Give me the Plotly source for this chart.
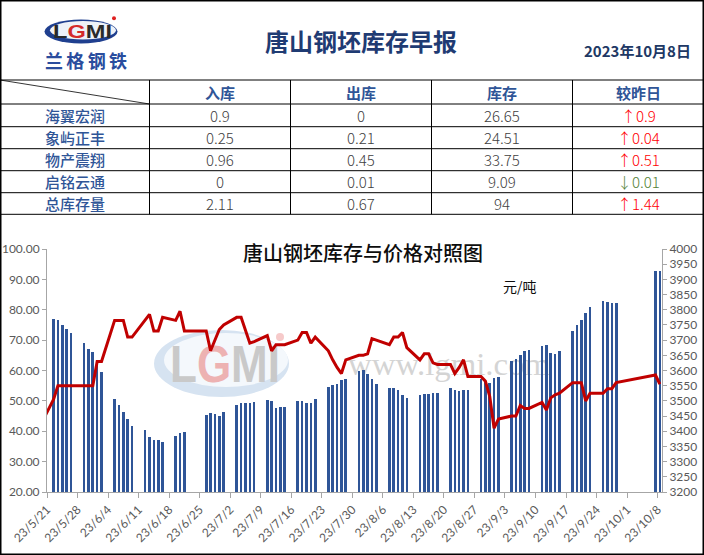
import base64
import pandas as pd
import plotly.graph_objects as go

W, H = 704, 555

# ---- report header / table ----
report_title = "唐山钢坯库存早报"
report_date = "2023年10月8日"
chart_title = "唐山钢坯库存与价格对照图"
price_unit = "元/吨"
table_columns = ["入库", "出库", "库存", "较昨日"]
companies = ["海翼宏润", "象屿正丰", "物产震翔", "启铭云通", "总库存量"]
stock_in = ["0.9", "0.25", "0.96", "0", "2.11"]
stock_out = ["0", "0.21", "0.45", "0.01", "0.67"]
stock_total = ["26.65", "24.51", "33.75", "9.09", "94"]
day_change = [0.9, 0.04, 0.51, -0.01, 1.44]

# ---- inventory (万吨, left axis) ----
inv_dates = [
    "2023-05-22", "2023-05-23", "2023-05-24", "2023-05-25", "2023-05-26",
    "2023-05-29", "2023-05-30", "2023-05-31", "2023-06-01", "2023-06-02",
    "2023-06-05", "2023-06-06", "2023-06-07", "2023-06-08", "2023-06-09",
    "2023-06-12", "2023-06-13", "2023-06-14", "2023-06-15", "2023-06-16",
    "2023-06-19", "2023-06-20", "2023-06-21",
    "2023-06-26", "2023-06-27", "2023-06-28", "2023-06-29", "2023-06-30",
    "2023-07-03", "2023-07-04", "2023-07-05", "2023-07-06", "2023-07-07",
    "2023-07-10", "2023-07-11", "2023-07-12", "2023-07-13", "2023-07-14",
    "2023-07-17", "2023-07-18", "2023-07-19", "2023-07-20", "2023-07-21",
    "2023-07-24", "2023-07-25", "2023-07-26", "2023-07-27", "2023-07-28",
    "2023-07-31", "2023-08-01", "2023-08-02", "2023-08-03", "2023-08-04",
    "2023-08-07", "2023-08-08", "2023-08-09", "2023-08-10", "2023-08-11",
    "2023-08-14", "2023-08-15", "2023-08-16", "2023-08-17", "2023-08-18",
    "2023-08-21", "2023-08-22", "2023-08-23", "2023-08-24", "2023-08-25",
    "2023-08-28", "2023-08-29", "2023-08-30", "2023-08-31", "2023-09-01",
    "2023-09-04", "2023-09-05", "2023-09-06", "2023-09-07", "2023-09-08",
    "2023-09-11", "2023-09-12", "2023-09-13", "2023-09-14", "2023-09-15",
    "2023-09-18", "2023-09-19", "2023-09-20", "2023-09-21", "2023-09-22",
    "2023-09-25", "2023-09-26", "2023-09-27", "2023-09-28",
    "2023-10-07", "2023-10-08",
]
inv_values = [
    77.0, 76.7, 75.1, 73.8, 72.5,
    69.2, 67.2, 66.0, 63.0, 59.6,
    50.7, 48.7, 46.4, 44.1, 41.8,
    40.5, 38.2, 37.2, 37.2, 36.6,
    38.3, 39.5, 39.9,
    45.4, 46.1, 45.8, 45.1, 46.4,
    48.7, 49.4, 49.4, 49.4, 49.7,
    50.4, 50.0, 47.5, 47.9, 47.9,
    50.0, 50.0, 49.4, 49.4, 50.7,
    54.7, 55.3, 55.7, 57.0, 57.3,
    59.7, 60.3, 58.9, 57.3, 55.7,
    54.3, 54.3, 53.7, 52.0, 51.0,
    52.0, 52.4, 52.4, 52.7, 52.7,
    54.3, 53.7, 53.3, 53.7, 53.7,
    57.2, 56.4, 56.0, 57.6, 58.0,
    63.0, 63.9, 65.2, 66.3, 66.8,
    68.2, 68.5, 65.9, 65.5, 66.5,
    73.1, 75.0, 76.7, 79.0, 81.0,
    83.0, 82.7, 82.3, 82.3,
    92.9, 92.9,
]

# ---- billet price (元/吨, right axis) ----
price_dates = [
    "2023-05-19", "2023-05-22", "2023-05-23", "2023-05-24", "2023-05-25", "2023-05-26",
    "2023-05-29", "2023-05-30", "2023-05-31", "2023-06-01", "2023-06-02",
    "2023-06-05", "2023-06-06", "2023-06-07", "2023-06-08", "2023-06-09",
    "2023-06-13", "2023-06-14", "2023-06-15", "2023-06-16",
    "2023-06-19", "2023-06-20", "2023-06-21",
    "2023-06-26", "2023-06-27", "2023-06-28", "2023-06-29", "2023-06-30",
    "2023-07-03", "2023-07-04", "2023-07-06", "2023-07-07",
    "2023-07-10", "2023-07-11", "2023-07-12", "2023-07-13", "2023-07-14",
    "2023-07-17", "2023-07-18", "2023-07-19", "2023-07-20", "2023-07-21",
    "2023-07-24", "2023-07-25", "2023-07-26", "2023-07-27", "2023-07-28",
    "2023-07-31", "2023-08-01", "2023-08-02", "2023-08-03", "2023-08-04",
    "2023-08-07", "2023-08-08", "2023-08-09", "2023-08-10", "2023-08-11",
    "2023-08-14", "2023-08-15", "2023-08-16", "2023-08-17", "2023-08-18",
    "2023-08-21", "2023-08-22", "2023-08-23", "2023-08-24", "2023-08-25",
    "2023-08-28", "2023-08-29", "2023-08-30", "2023-08-31", "2023-09-01",
    "2023-09-04", "2023-09-05", "2023-09-06", "2023-09-07", "2023-09-08",
    "2023-09-11", "2023-09-12", "2023-09-13", "2023-09-14", "2023-09-15",
    "2023-09-18", "2023-09-19", "2023-09-20", "2023-09-21", "2023-09-22",
    "2023-09-25", "2023-09-26", "2023-09-27", "2023-09-28",
    "2023-10-07", "2023-10-08",
]
price_values = [
    3420, 3505, 3550, 3550, 3550, 3550,
    3550, 3550, 3550, 3630, 3630,
    3765, 3765, 3765, 3710, 3710,
    3785, 3730, 3730, 3775,
    3765, 3795, 3730,
    3730, 3665, 3700, 3735, 3750,
    3775, 3775, 3690, 3695,
    3715, 3665, 3685, 3685, 3685,
    3700, 3725, 3725, 3690, 3710,
    3665, 3635, 3610, 3590, 3635,
    3650, 3650, 3655, 3705, 3700,
    3685, 3710, 3710, 3725, 3675,
    3635, 3655, 3655, 3625, 3620,
    3620, 3590, 3610, 3635, 3580,
    3580, 3565, 3515, 3410, 3440,
    3450, 3450, 3485, 3475, 3475,
    3495, 3470, 3510, 3520, 3525,
    3560, 3560, 3560, 3500, 3525,
    3525, 3540, 3540, 3560,
    3585, 3555,
]

# weekly axis labels
tick_dates = pd.date_range("2023-05-21", "2023-10-08", freq="7D")
tick_text = [f"{d.year % 100}/{d.month}/{d.day}" for d in tick_dates]

# plot area in pixels
ML, MR, MT, MB = 47, 42, 249, 63
PW, PH = W - ML - MR, H - MT - MB


def px(x):
    return (x - ML) / PW


def py(y):
    return (H - MB - y) / PH


CJK = "Noto Sans CJK SC"
BLUE = "#2F5597"
GREY_TXT = "#595959"
AXIS = "#A6A6A6"


def svg_uri(svg):
    return "data:image/svg+xml;base64," + base64.b64encode(svg.encode("utf-8")).decode("ascii")


logo_svg = f"""<svg xmlns="http://www.w3.org/2000/svg" width="95" height="62" viewBox="0 0 95 62">
<ellipse cx="41" cy="19.5" rx="36.5" ry="12" fill="#1F3F8F"/>
<ellipse cx="43" cy="18.2" rx="33" ry="9.2" fill="#EEF2F8"/>
<text x="13" y="26.3" font-family="Liberation Sans" font-weight="bold" font-size="17.5" textLength="59" lengthAdjust="spacingAndGlyphs"><tspan fill="#2A2A2A">L</tspan><tspan fill="#D42A2A">G</tspan><tspan fill="#2A2A2A">MI</tspan></text>
<circle cx="74" cy="6.3" r="2" fill="#E02020"/>
<text x="5" y="56" font-family="'{CJK}'" font-weight="bold" font-size="18" fill="#2A4D9E" textLength="82" lengthAdjust="spacing">兰格钢铁</text>
</svg>"""

watermark_svg = """<svg xmlns="http://www.w3.org/2000/svg" width="420" height="80" viewBox="0 0 420 80">
<ellipse cx="73.5" cy="38.5" rx="67.5" ry="33.5" fill="#D6E3F1"/>
<ellipse cx="78" cy="35" rx="62" ry="27" fill="#F4F8FC"/>
<text x="22" y="57" font-family="Liberation Sans" font-weight="bold" font-size="52" textLength="110" lengthAdjust="spacingAndGlyphs"><tspan fill="#C9C9C9">L</tspan><tspan fill="#EDB2B2">G</tspan><tspan fill="#C9C9C9">MI</tspan></text>
<circle cx="132" cy="12" r="4" fill="#F6CACA"/>
<text x="200" y="50" font-family="Liberation Serif" font-size="32" fill="#D4D4D4" textLength="202" lengthAdjust="spacingAndGlyphs">www.lgmi.com</text>
</svg>"""

fig = go.Figure()

fig.add_trace(go.Bar(
    x=inv_dates,
    y=inv_values,
    name="库存",
    marker=dict(color=BLUE, line=dict(width=0)),
    width=0.6 * 86400000,
    yaxis="y",
))
fig.add_trace(go.Scatter(
    x=price_dates,
    y=price_values,
    name="价格",
    mode="lines",
    line=dict(color="#C00000", width=3),
    yaxis="y2",
))

# table grid and frame
shapes = []
line_k = dict(color="black", width=1)
shapes.append(dict(type="rect", xref="paper", yref="paper",
                   x0=px(0.75), x1=px(703.25), y0=py(0.75), y1=py(554.25),
                   line=dict(color="black", width=1.5)))
row_lines = [80, 104, 126.7, 148.7, 170.7, 192.7, 214.3]
col_lines = [149.5, 290.5, 431.5, 572.5]
for y in row_lines:
    shapes.append(dict(type="line", xref="paper", yref="paper",
                       x0=px(0), x1=px(704), y0=py(y), y1=py(y), line=line_k))
for x in col_lines:
    shapes.append(dict(type="line", xref="paper", yref="paper",
                       x0=px(x), x1=px(x), y0=py(row_lines[0]), y1=py(row_lines[-1]), line=line_k))
shapes.append(dict(type="line", xref="paper", yref="paper",
                   x0=px(0), x1=px(col_lines[0]), y0=py(row_lines[0]), y1=py(row_lines[1]),
                   line=dict(color="black", width=0.8)))

annotations = []


def note(text, x, y, size, color, weight="normal", family=CJK):
    annotations.append(dict(
        text=text, xref="paper", yref="paper", x=px(x), y=py(y),
        xanchor="center", yanchor="middle", showarrow=False,
        font=dict(family=family, size=size, color=color, weight=weight),
    ))


note(report_title, 361, 40, 24, "#1F3B73", "bold")
note(report_date, 637, 50.5, 15, "#203864", "bold")

col_centers = [220, 361, 502, 638]
for name, cx in zip(table_columns, col_centers):
    note(name, cx, 92, 15, BLUE, "bold")

row_centers = [115.3, 137.7, 159.7, 181.7, 203.5]
for i, cy in enumerate(row_centers):
    note(companies[i], 74.75, cy, 15, BLUE, 500)
    note(stock_in[i], col_centers[0], cy, 15, "#404040", 300)
    note(stock_out[i], col_centers[1], cy, 15, "#404040", 300)
    note(stock_total[i], col_centers[2], cy, 15, "#404040", 300)
    v = day_change[i]
    arrow = "↑" if v >= 0 else "↓"
    note(f"{arrow}{abs(v):g}", col_centers[3], cy, 15,
         "#FF0000" if v >= 0 else "#548235", 300)

note(chart_title, 362.5, 252.5, 20, "#0D0D0D", 500)
note(price_unit, 520, 286, 14, "#0D0D0D")

images = [
    dict(source=svg_uri(logo_svg), xref="paper", yref="paper",
         x=px(40), y=py(12), sizex=95 / PW, sizey=62 / PH,
         xanchor="left", yanchor="top", sizing="stretch", layer="above"),
    dict(source=svg_uri(watermark_svg), xref="paper", yref="paper",
         x=px(148), y=py(325), sizex=420 / PW, sizey=80 / PH,
         xanchor="left", yanchor="top", sizing="stretch", layer="below"),
]

fig.update_layout(
    width=W,
    height=H,
    margin=dict(l=ML, r=MR, t=MT, b=MB, pad=0),
    paper_bgcolor="white",
    plot_bgcolor="rgba(0,0,0,0)",
    showlegend=False,
    bargap=0,
    shapes=shapes,
    annotations=annotations,
    images=images,
    xaxis=dict(
        type="date",
        range=["2023-05-20 12:00", "2023-10-08 12:00"],
        tickmode="array",
        tickvals=[d - pd.Timedelta(hours=12) for d in tick_dates],
        ticktext=tick_text,
        tickangle=-45,
        ticks="outside",
        ticklen=5,
        tickcolor=AXIS,
        showline=True,
        linecolor=AXIS,
        linewidth=1,
        showgrid=False,
        zeroline=False,
        automargin=False,
        tickfont=dict(family="Lato", size=12, color=GREY_TXT),
    ),
    yaxis=dict(
        range=[20, 100],
        dtick=10,
        tickformat=".2f",
        ticks="outside",
        ticklen=4,
        tickcolor=AXIS,
        showline=True,
        linecolor=AXIS,
        showgrid=False,
        zeroline=False,
        automargin=False,
        tickfont=dict(family="Lato", size=12, color=GREY_TXT),
    ),
    yaxis2=dict(
        overlaying="y",
        side="right",
        range=[3200, 4000],
        dtick=50,
        ticks="outside",
        ticklen=4,
        tickcolor=AXIS,
        showline=True,
        linecolor=AXIS,
        showgrid=False,
        zeroline=False,
        automargin=False,
        tickfont=dict(family="Lato", size=12, color=GREY_TXT),
    ),
)

fig.write_html("out.html", config={"displayModeBar": False},
               post_script="document.body.style.margin='0';")
